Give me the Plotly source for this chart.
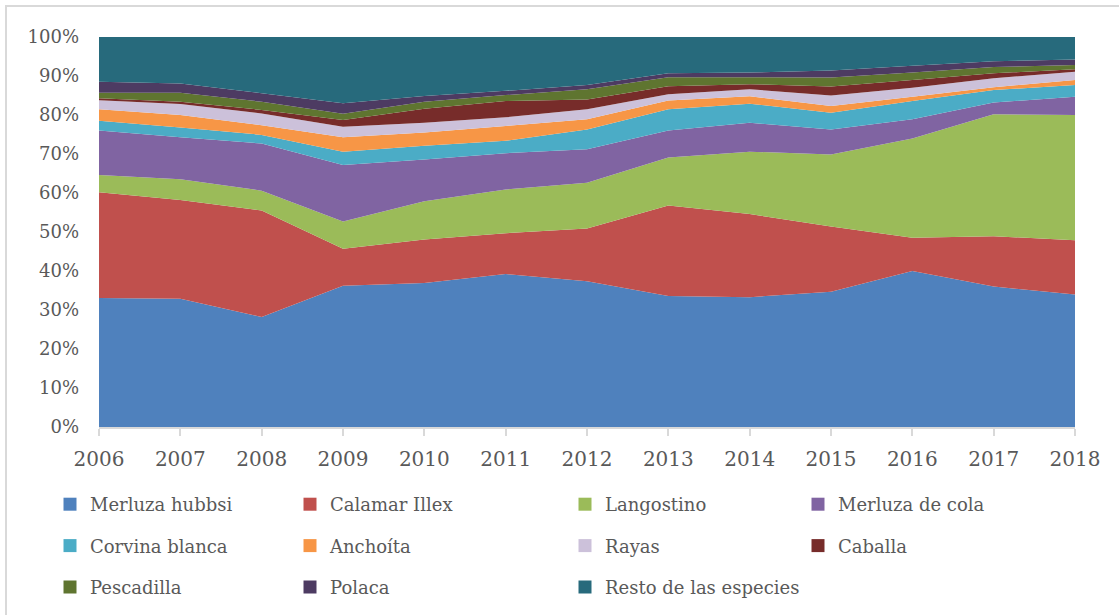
import plotly.graph_objects as go

# Annual catch composition by species (% of total landings)
years = [2006, 2007, 2008, 2009, 2010, 2011, 2012, 2013, 2014, 2015, 2016, 2017, 2018]
pct_ticks = [0, 10, 20, 30, 40, 50, 60, 70, 80, 90, 100]

merluza_hubbsi = [33.1, 32.9, 28.2, 36.2, 36.9, 39.2, 37.4, 33.6, 33.3, 34.7, 40.0, 36.0, 34.0]
calamar_illex = [27.1, 25.3, 27.3, 9.5, 11.2, 10.5, 13.5, 23.2, 21.3, 16.7, 8.5, 12.9, 13.9]
langostino = [4.4, 5.3, 5.1, 7.0, 9.8, 11.2, 11.7, 12.3, 16.0, 18.5, 25.5, 31.3, 32.1]
merluza_de_cola = [11.4, 10.8, 12.1, 14.5, 10.7, 9.3, 8.6, 6.9, 7.4, 6.4, 4.9, 3.0, 4.7]
corvina_blanca = [2.5, 2.5, 2.2, 3.4, 3.5, 3.2, 5.1, 5.5, 4.9, 4.3, 4.7, 3.2, 3.0]
anchoita = [3.0, 3.2, 2.5, 3.7, 3.4, 3.8, 2.6, 2.2, 1.9, 1.7, 1.1, 0.7, 1.3]
rayas = [2.3, 2.8, 3.0, 2.7, 2.5, 2.2, 2.6, 1.6, 1.8, 2.7, 2.3, 2.3, 2.1]
caballa = [0.5, 0.6, 0.9, 1.7, 3.6, 4.2, 2.5, 2.1, 1.3, 2.3, 2.0, 1.3, 0.6]
pescadilla = [1.4, 2.3, 2.1, 1.6, 1.8, 1.5, 2.6, 2.3, 1.8, 2.3, 1.9, 1.6, 1.1]
polaca = [2.8, 2.4, 2.2, 2.7, 1.5, 1.1, 1.1, 1.0, 1.2, 1.8, 1.7, 1.5, 1.4]
resto = [11.5, 11.9, 14.4, 17.0, 15.1, 13.8, 12.3, 9.3, 9.1, 8.6, 7.4, 6.2, 5.8]

series = [
    ("Merluza hubbsi", merluza_hubbsi, "#4F81BD"),
    ("Calamar Illex", calamar_illex, "#C0504D"),
    ("Langostino", langostino, "#9BBB59"),
    ("Merluza de cola", merluza_de_cola, "#8064A2"),
    ("Corvina blanca", corvina_blanca, "#4BACC6"),
    ("Anchoíta", anchoita, "#F79646"),
    ("Rayas", rayas, "#CCC1DA"),
    ("Caballa", caballa, "#772C2A"),
    ("Pescadilla", pescadilla, "#5F7530"),
    ("Polaca", polaca, "#4D3B62"),
    ("Resto de las especies", resto, "#276A7C"),
]

FONT = "DejaVu Serif"
GREY = "#595959"

fig = go.Figure()

# Stacked 100% areas
for name, vals, color in series:
    fig.add_trace(go.Scatter(
        x=years, y=vals, name=name, stackgroup="one", groupnorm="percent",
        mode="none", fillcolor=color, showlegend=False, hoverinfo="name+y",
    ))

# Legend entries laid out as four columns (row-major reading order)
legend_ids = ["legend", "legend2", "legend3", "legend4"]
for i, (name, vals, color) in enumerate(series):
    col = i % 4
    fig.add_trace(go.Scatter(
        x=[None], y=[None], name=name, mode="markers",
        marker=dict(symbol="square", size=13, color=color),
        legend=legend_ids[col], legendgroup=name, showlegend=True,
    ))

text_x = [90, 330, 605, 838]
legend_common = dict(
    orientation="v", xref="container", yref="container",
    yanchor="top", xanchor="left", y=1 - 486 / 615,
    font=dict(family=FONT, size=18, color=GREY),
    bgcolor="rgba(0,0,0,0)", borderwidth=0, tracegroupgap=15,
    itemclick=False, itemdoubleclick=False,
)
legends = {}
for lid, tx in zip(legend_ids, text_x):
    legends[lid] = dict(legend_common, x=(tx - 40) / 1119)

fig.update_layout(
    width=1119, height=615,
    margin=dict(l=99, r=44, t=37, b=188, autoexpand=False),
    paper_bgcolor="white", plot_bgcolor="white",
    font=dict(family=FONT, color=GREY),
    xaxis=dict(
        range=[2006, 2018], tickvals=years, ticktext=[str(y) for y in years],
        showgrid=False, zeroline=False, showline=True, linecolor="#D9D9D9", linewidth=1.5,
        ticks="outside", ticklen=7, tickcolor="#D9D9D9", tickwidth=1.5,
        tickfont=dict(family=FONT, size=20, color=GREY), ticklabelstandoff=6,
        automargin=False,
    ),
    yaxis=dict(
        range=[0, 100], tickvals=pct_ticks, ticktext=[f"{v}%" for v in pct_ticks],
        showgrid=False, zeroline=False, showline=False,
        tickfont=dict(family=FONT, size=18, color=GREY), ticklabelstandoff=19,
        automargin=False,
    ),
    shapes=[dict(
        type="rect", xref="paper", yref="paper",
        x0=-93 / 976, x1=1.2, y0=-0.6, y1=1 + 31 / 390,
        line=dict(color="#D9D9D9", width=2), fillcolor="rgba(0,0,0,0)", layer="below",
    )],
    **legends,
)

fig.write_html("out.html")
